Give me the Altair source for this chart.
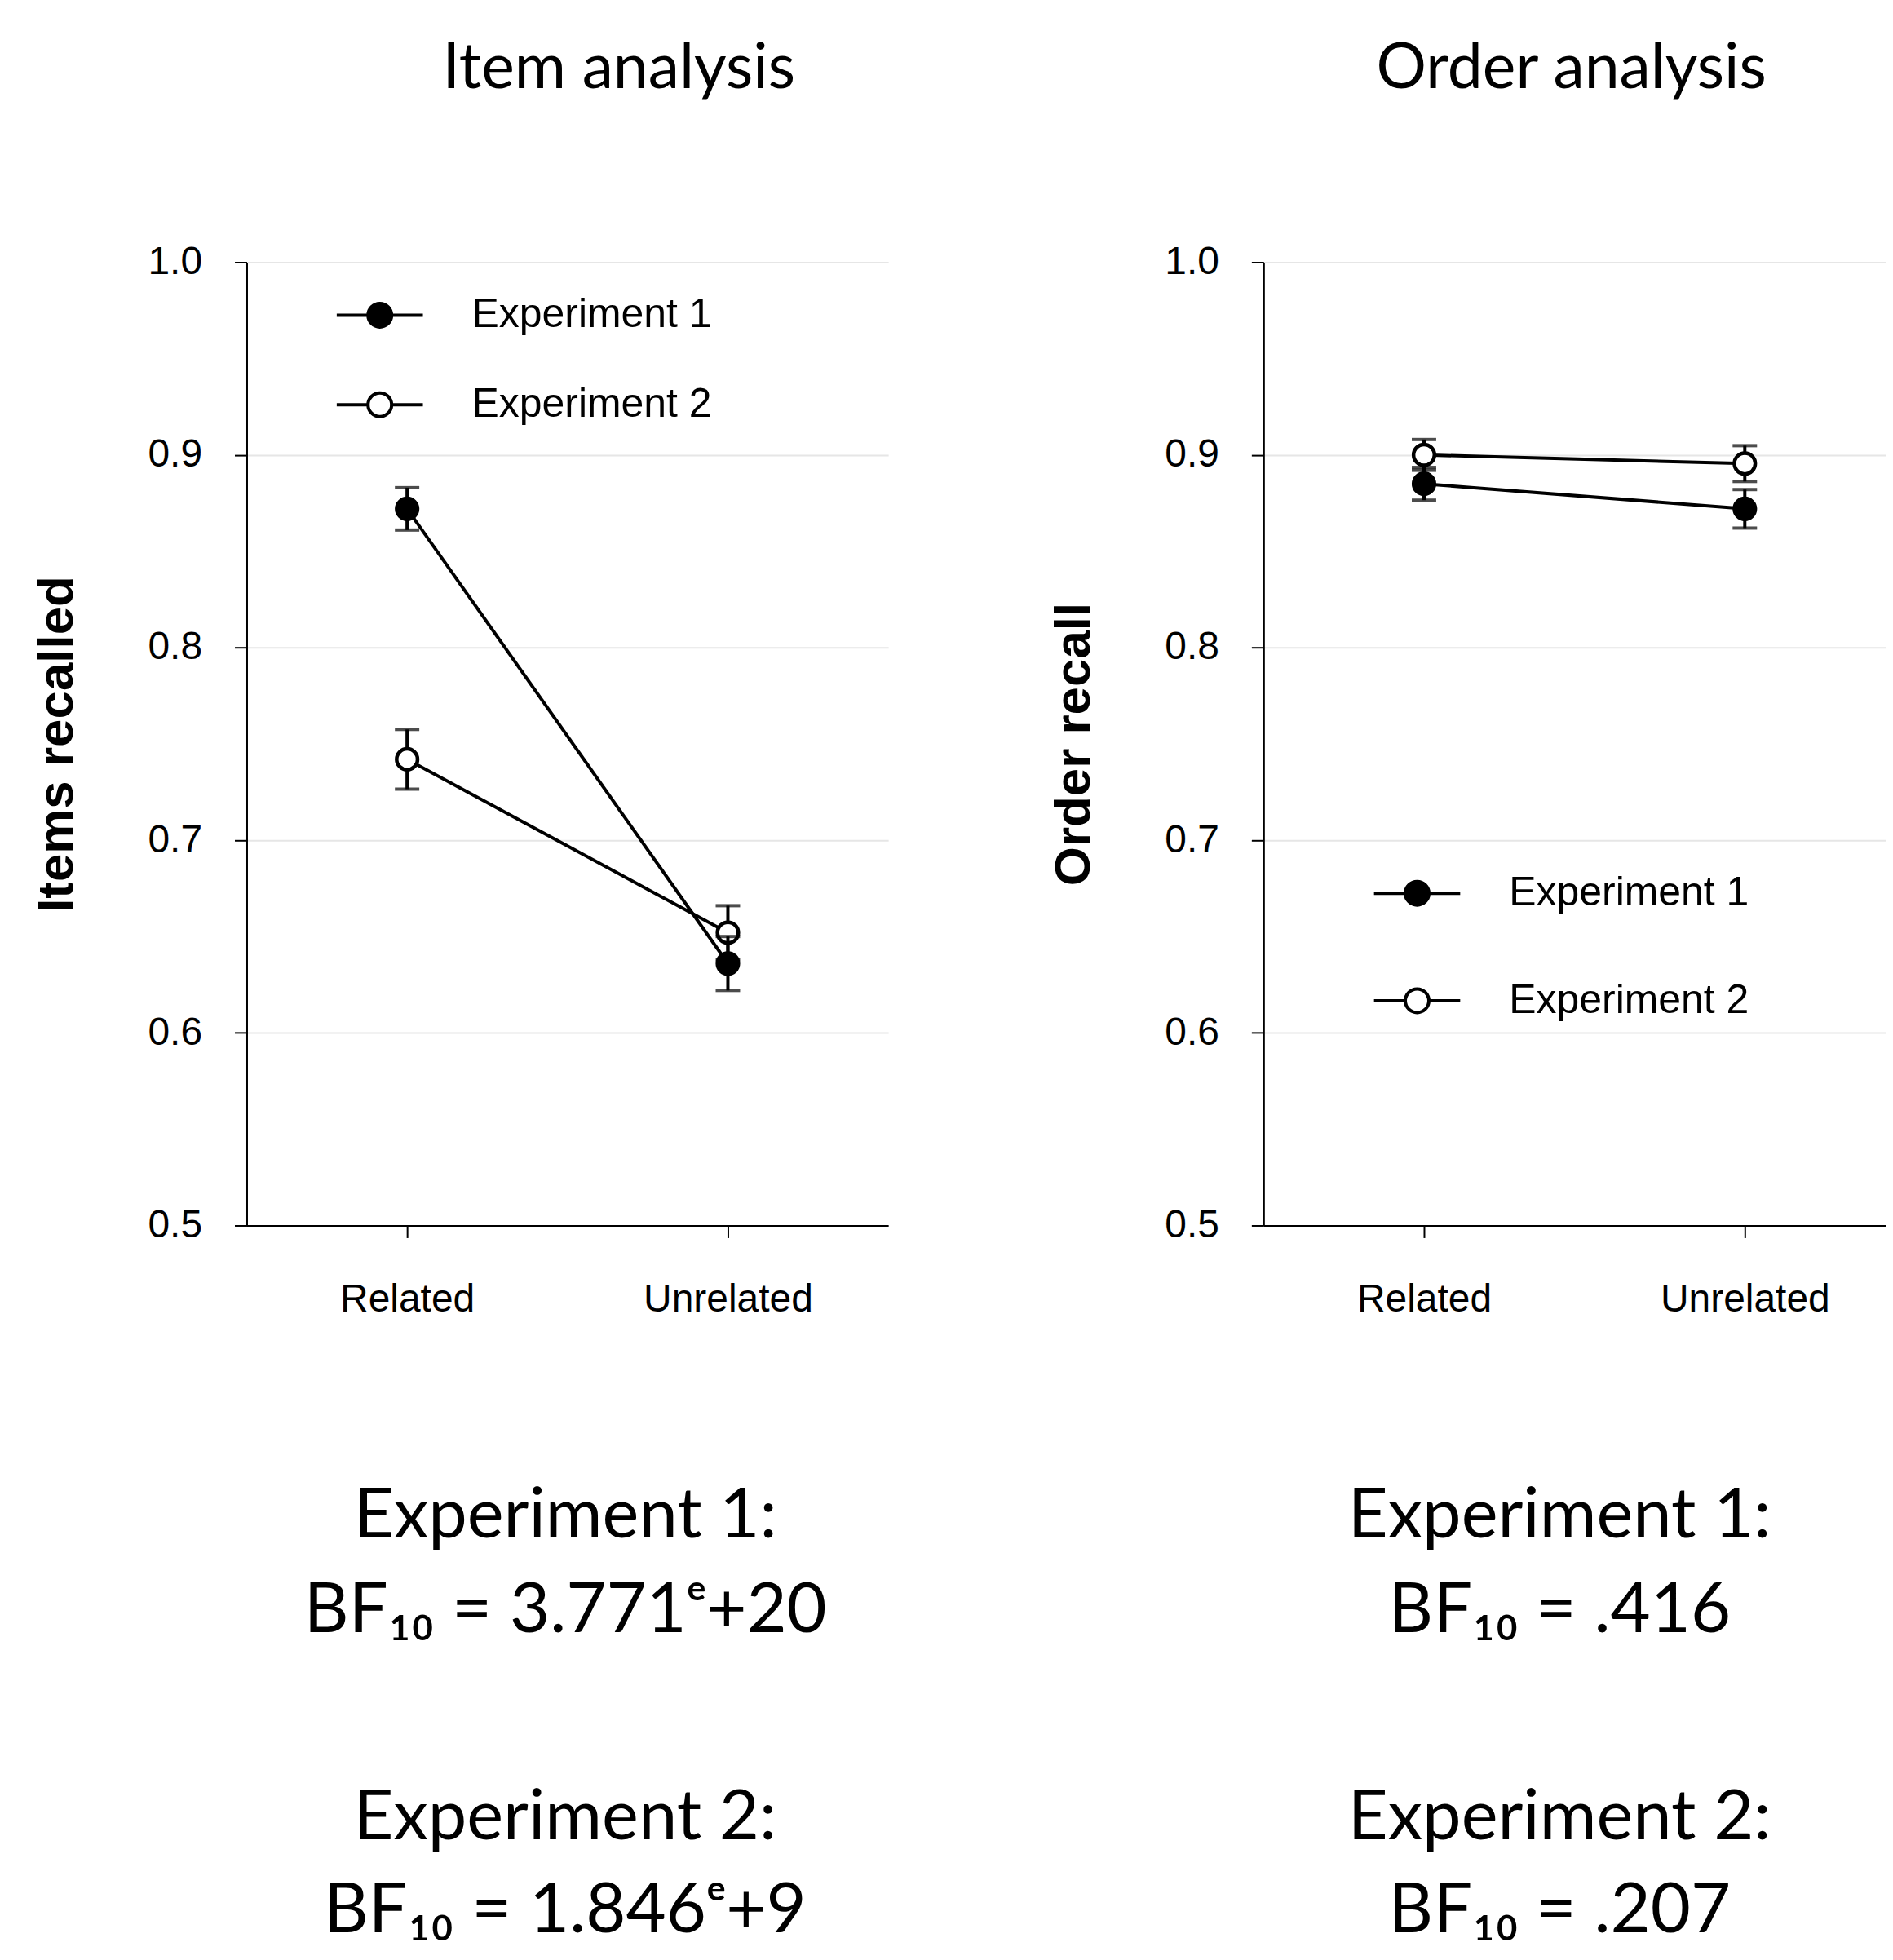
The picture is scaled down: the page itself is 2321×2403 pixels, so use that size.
import altair as alt
import pandas as pd

# ---------------- data ----------------
conditions = ["Related", "Unrelated"]
experiments = ["Experiment 1", "Experiment 2"]

item_exp1 = [0.872, 0.636]
item_exp1_err = [0.011, 0.014]
item_exp2 = [0.742, 0.652]
item_exp2_err = [0.0155, 0.014]

order_exp1 = [0.885, 0.872]
order_exp1_err = [0.0085, 0.010]
order_exp2 = [0.900, 0.8955]
order_exp2_err = [0.008, 0.0093]

y_ticks = [0.5, 0.6, 0.7, 0.8, 0.9, 1.0]

panel_titles = ["Item analysis", "Order analysis"]
y_titles = ["Items recalled", "Order recall"]
bf_item_e1 = ["Experiment 1:", "BF\u2081\u2080 = 3.771\u1d49+20"]
bf_item_e2 = ["Experiment 2:", "BF\u2081\u2080 = 1.846\u1d49+9"]
bf_order_e1 = ["Experiment 1:", "BF\u2081\u2080 = .416"]
bf_order_e2 = ["Experiment 2:", "BF\u2081\u2080 = .207"]


def make_df(e1, e1err, e2, e2err):
    rows = []
    for exp, vals, errs in [(experiments[0], e1, e1err), (experiments[1], e2, e2err)]:
        for c, v, s in zip(conditions, vals, errs):
            rows.append({"condition": c, "experiment": exp, "mean": v,
                         "lo": v - s, "hi": v + s})
    return pd.DataFrame(rows)


LEGEND_PATH = "M-3.65,0H-1M1,0H3.65M1,0A1,1,0,1,1,-1,0A1,1,0,1,1,1,0Z"
PLOT_H = 1183


def panel(df, title, title_dx, ytitle, bf1, bf2, bf2_dx, width, xscale, bf_x,
          legend_x, legend_y, legend_row_pad):
    xaxis = alt.Axis(title=bf1, titleX=bf_x, titleY=383, titleAlign="center",
                     titleBaseline="alphabetic", titleFont="Lato", titleFontSize=85,
                     titleFontWeight="normal", titleLineHeight=116,
                     labelAngle=0, labelPadding=52, tickSize=15, grid=False)
    yaxis = alt.Axis(values=y_ticks, format=".1f", title=ytitle, titleX=-214,
                     titleY=PLOT_H / 2, titleAngle=270, titleAlign="center",
                     titleBaseline="alphabetic", titleFontSize=62, titleFontWeight="bold",
                     labelPadding=40, tickSize=15, grid=True)
    yscale = alt.Scale(domain=[0.5, 1.0], nice=False, zero=False)
    x = alt.X("condition:N", sort=conditions, scale=xscale, axis=xaxis)

    def Y(field):
        return alt.Y(field, type="quantitative", scale=yscale, axis=yaxis)

    fill = alt.Fill("experiment:N",
                    scale=alt.Scale(domain=experiments, range=["black", "white"]),
                    legend=alt.Legend(title=None, orient="none", legendX=legend_x,
                                      legendY=legend_y, direction="vertical",
                                      symbolType=LEGEND_PATH, symbolSize=841,
                                      symbolStrokeColor="black", symbolStrokeWidth=4,
                                      symbolOpacity=1, labelFont="Liberation Sans",
                                      labelFontSize=50, labelColor="black",
                                      labelOffset=88, labelLimit=600,
                                      rowPadding=legend_row_pad))

    base = alt.Chart(df)
    layers = [base.mark_line(color="black", strokeWidth=4).encode(
        x=x, y=Y("mean"), detail="experiment:N")]
    for exp in [experiments[1], experiments[0]]:
        sub = base.transform_filter(alt.datum.experiment == exp)
        layers.append(sub.mark_rule(color="black", strokeWidth=4).encode(
            x=x, y=Y("lo"), y2="hi:Q"))
        layers.append(sub.mark_tick(color="black", size=30, thickness=4).encode(
            x=x, y=Y("lo")))
        layers.append(sub.mark_tick(color="black", size=30, thickness=4).encode(
            x=x, y=Y("hi")))
        layers.append(sub.mark_point(shape="circle", filled=True, size=660,
                                     stroke="black", strokeWidth=4.5, opacity=1).encode(
            x=x, y=Y("mean"), fill=fill))

    plot = alt.layer(*layers).properties(
        width=width, height=PLOT_H,
        title=alt.TitleParams(bf2, orient="bottom", font="Lato", fontSize=85,
                              fontWeight="normal", color="black", anchor="middle",
                              frame="group", dx=bf2_dx, offset=238,
                              baseline="alphabetic", lineHeight=114))
    return alt.vconcat(plot).properties(
        title=alt.TitleParams(title, font="Lato", fontSize=77, fontWeight="normal",
                              color="black", anchor="middle", frame="group",
                              dx=title_dx, offset=113, baseline="alphabetic"))


left = panel(make_df(item_exp1, item_exp1_err, item_exp2, item_exp2_err),
             panel_titles[0], 457, y_titles[0], bf_item_e1, bf_item_e2, -3, 788,
             alt.Scale(type="point", padding=0.5), 391, 138.5, 40, 60)
right = panel(make_df(order_exp1, order_exp1_err, order_exp2, order_exp2_err),
              panel_titles[1], 378, y_titles[1], bf_order_e1, bf_order_e2, -19, 765,
              alt.Scale(type="point", padding=0.4708, align=0.531), 363, 163.5, 750, 82)

chart = (
    alt.hconcat(left, right, spacing=197)
    .resolve_scale(x="independent", y="independent", fill="independent")
    .resolve_legend(fill="independent")
    .configure_view(stroke=None)
    .configure_axis(labelFont="Liberation Sans", titleFont="Liberation Sans",
                    labelFontSize=48, labelColor="black", titleColor="black",
                    labelLimit=500,
                    domainColor="black", domainWidth=2, tickColor="black",
                    tickWidth=2, gridColor="#e6e6e6", gridWidth=2)
    .properties(padding={"left": 31, "top": 36, "right": 0, "bottom": 0},
                background="white")
)

chart.save("out.html", embed_options={"renderer": "svg", "actions": False})
